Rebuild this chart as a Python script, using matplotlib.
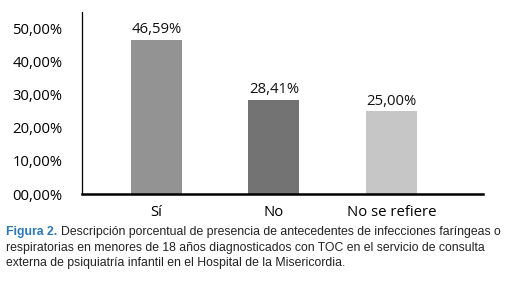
import matplotlib
matplotlib.use("Agg")
import matplotlib.pyplot as plt

# datos del grafico
categorias = ["Sí", "No", "No se refiere"]
porcentajes = [46.59, 28.41, 25.00]
etiquetas = ["46,59%", "28,41%", "25,00%"]
ticks_y = [0, 10, 20, 30, 40, 50]
ticks_y_txt = ["00,00%", "10,00%", "20,00%", "30,00%", "40,00%", "50,00%"]
colores = ["#939393", "#737373", "#c6c6c6"]

fig = plt.figure(figsize=(5.18, 2.85), dpi=100)
ax = fig.add_axes([82 / 518, 1 - 194 / 285, (483 - 82) / 518, (194 - 12) / 285])

pos = range(len(categorias))
ax.bar(pos, porcentajes, width=0.434, color=colores)

# valor encima de cada barra
for i in pos:
    ax.text(i, porcentajes[i] + 0.8, etiquetas[i], ha="center", va="bottom",
            fontsize=10.7, family="Open Sans", color="#111111")

ax.set_xlim(-0.634, 2.78)
ax.set_ylim(0, 55)
ax.set_xticks(list(pos))
ax.set_xticklabels(categorias, fontsize=10.7, family="Open Sans")
ax.set_yticks(ticks_y)
ax.set_yticklabels(ticks_y_txt, fontsize=10.7, family="Open Sans")
ax.tick_params(length=0)
ax.tick_params(axis="y", pad=14)
ax.tick_params(axis="x", pad=8)

ax.spines["top"].set_visible(False)
ax.spines["right"].set_visible(False)
ax.spines["left"].set_linewidth(0.9)
ax.spines["bottom"].set_linewidth(1.8)

# leyenda de la figura
fs = 8.8
t = fig.text(6 / 518, 1 - 232 / 285, "Figura 2.", fontsize=fs, family="Liberation Sans",
             color="#2a78b5", fontweight="bold", va="center")
ax.annotate("Descripción porcentual de presencia de antecedentes de infecciones faríngeas o",
            xy=(1, 0.5), xycoords=t, xytext=(2.5, 0), textcoords="offset points",
            fontsize=fs, family="Liberation Sans", color="#222222", va="center",
            annotation_clip=False)
fig.text(6 / 518, 1 - 248 / 285,
         "respiratorias en menores de 18 años diagnosticados con TOC en el servicio de consulta",
         fontsize=fs, family="Liberation Sans", color="#222222", va="center")
fig.text(6 / 518, 1 - 263 / 285,
         "externa de psiquiatría infantil en el Hospital de la Misericordia.",
         fontsize=fs, family="Liberation Sans", color="#222222", va="center")

fig.savefig("out.png", dpi=100)
